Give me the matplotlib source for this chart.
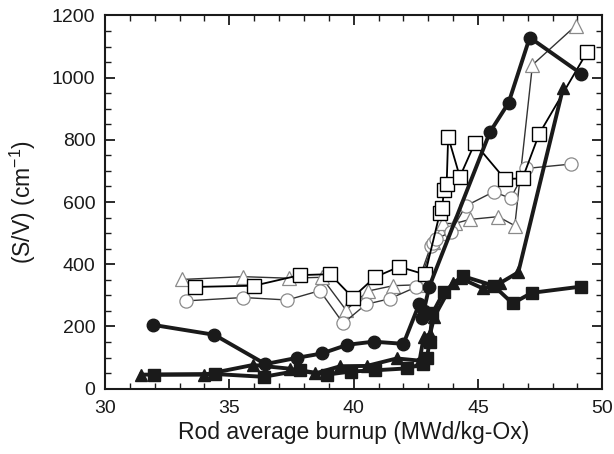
import matplotlib
matplotlib.use("Agg")
import matplotlib.pyplot as plt
from matplotlib.ticker import MultipleLocator

plt.rcParams['font.family'] = ['Liberation Sans', 'DejaVu Sans']

# Open triangles (thin line)
tri_o_x = [33.08, 35.56, 37.41, 38.71, 39.69, 40.59, 41.59, 42.62, 43.2, 43.53, 43.60, 44.07, 44.67, 45.81, 46.48, 47.19, 48.93]
tri_o_y = [351, 360, 355, 358, 253, 314, 331, 334, 470, 499, 531, 531, 544, 553, 524, 1041, 1167]

# Open squares (thin line)
sq_o_x = [33.63, 36.0, 37.84, 39.05, 39.96, 40.85, 41.83, 42.87, 43.47, 43.56, 43.63, 43.74, 43.80, 44.27, 44.87, 46.08, 46.79, 47.46, 49.4]
sq_o_y = [327, 331, 365, 368, 293, 358, 392, 367, 566, 580, 639, 657, 810, 681, 789, 674, 676, 819, 1084]

# Open circles (thin line)
ci_o_x = [33.24, 35.56, 37.33, 38.64, 39.58, 40.49, 41.45, 42.52, 43.1, 43.2, 43.3, 43.91, 44.5, 45.63, 46.31, 46.95, 48.74]
ci_o_y = [282, 293, 285, 315, 210, 271, 289, 327, 458, 468, 480, 504, 587, 633, 612, 708, 722]

# Filled circles (thick line)
ci_f_x = [31.93, 34.40, 36.45, 37.72, 38.72, 39.75, 40.8, 42.0, 42.64, 42.74, 42.82, 43.04, 45.48, 46.23, 47.08, 49.16]
ci_f_y = [205, 173, 79, 99, 113, 141, 151, 144, 273, 228, 250, 328, 825, 919, 1129, 1012]

# Filled triangles (thick line)
tri_f_x = [31.45, 34.0, 35.95, 37.44, 38.46, 39.46, 40.53, 41.73, 42.65, 42.82, 43.07, 43.24, 43.98, 44.3, 45.2, 45.88, 46.62, 48.42]
tri_f_y = [45, 45, 76, 64, 49, 72, 73, 97, 90, 167, 175, 231, 339, 355, 322, 339, 374, 966]

# Filled squares (thick line)
sq_f_x = [31.96, 34.42, 36.38, 37.85, 38.92, 39.89, 40.87, 42.13, 42.8, 42.95, 43.05, 43.17, 43.62, 44.38, 45.63, 46.39, 47.16, 49.14]
sq_f_y = [45, 47, 38, 59, 45, 55, 59, 65, 80, 100, 151, 243, 310, 362, 331, 274, 308, 328]

fig = plt.figure(figsize=(6.14, 4.54), dpi=100)
ax = fig.add_axes([0.171, 0.144, 0.810, 0.822])

gray = '#8a8a8a'
ax.plot(tri_o_x, tri_o_y, '-', color='#333333', lw=1.0, marker='^', ms=9.5,
        mfc='white', mec=gray, mew=0.9, zorder=3)
ax.plot(ci_o_x, ci_o_y, '-', color='#333333', lw=1.0, marker='o', ms=9.5,
        mfc='white', mec=gray, mew=0.9, zorder=3)
ax.plot(sq_o_x, sq_o_y, '-', color='black', lw=1.3, marker='s', ms=10,
        mfc='white', mec='black', mew=1.0, zorder=4)
ax.plot(tri_f_x, tri_f_y, '-', color='#1a1a1a', lw=2.8, marker='^', ms=8.5,
        mfc='#1a1a1a', mec='#1a1a1a', zorder=5)
ax.plot(sq_f_x, sq_f_y, '-', color='#1a1a1a', lw=2.8, marker='s', ms=9,
        mfc='#1a1a1a', mec='#1a1a1a', zorder=5)
ax.plot(ci_f_x, ci_f_y, '-', color='#1a1a1a', lw=2.8, marker='o', ms=9,
        mfc='#1a1a1a', mec='#1a1a1a', zorder=6)

ax.set_xlim(30, 50)
ax.set_ylim(0, 1200)
ax.xaxis.set_major_locator(MultipleLocator(5))
ax.xaxis.set_minor_locator(MultipleLocator(1))
ax.yaxis.set_major_locator(MultipleLocator(200))
ax.yaxis.set_minor_locator(MultipleLocator(50))
ax.tick_params(which='both', direction='in', top=True, right=True, labelsize=14, colors='#1a1a1a')
ax.tick_params(which='major', length=7, width=1.3)
ax.tick_params(which='minor', length=4, width=1.0)
ax.tick_params(axis='x', which='major', pad=8)
ax.tick_params(axis='y', which='major', pad=7)
for s in ax.spines.values():
    s.set_linewidth(1.5)
    s.set_color('#1a1a1a')

ax.set_xlabel('Rod average burnup (MWd/kg-Ox)', fontsize=16.5, color='#1a1a1a', labelpad=3)
ax.set_ylabel('(S/V) (cm$^{\\mathregular{-1}}$)', fontsize=16.5, color='#1a1a1a', labelpad=10)

fig.savefig('out.png', dpi=100)
